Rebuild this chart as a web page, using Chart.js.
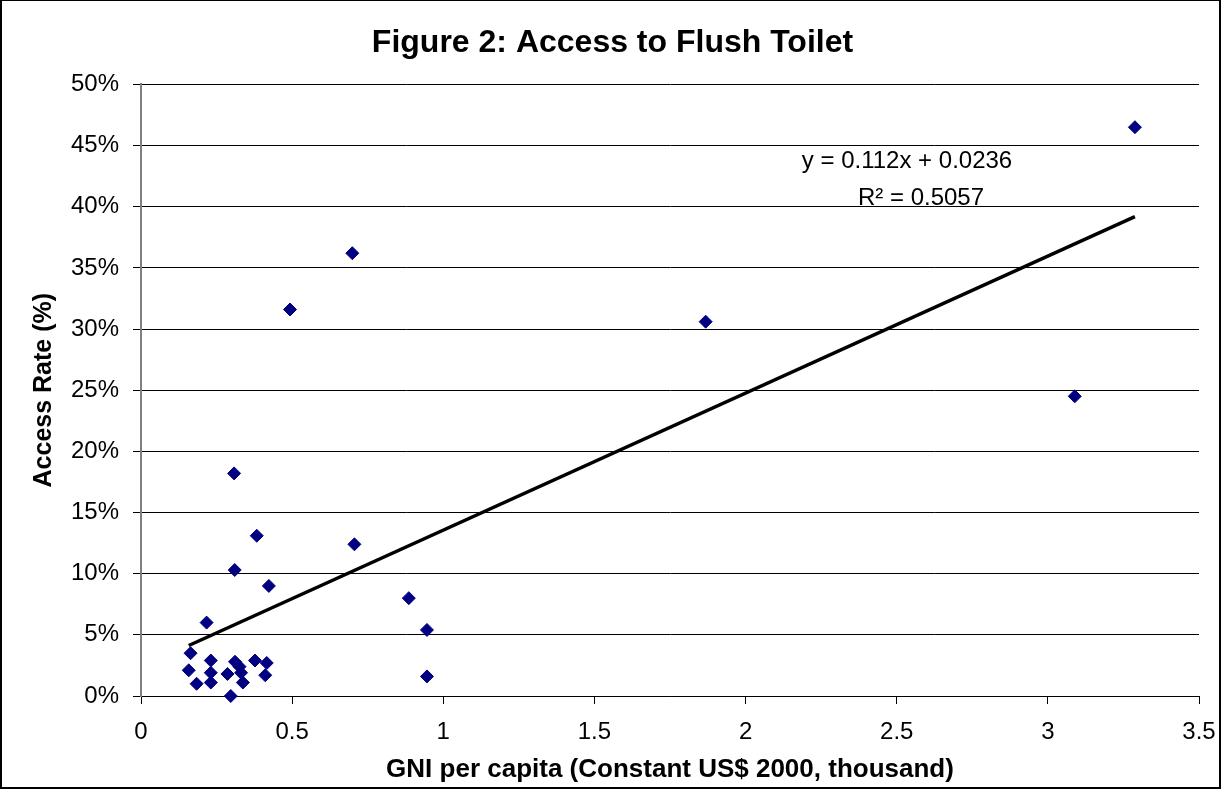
<!DOCTYPE html>
<html lang="en">
  <head>
    <meta charset="UTF-8" />
    <title>Figure 2: Access to Flush Toilet</title>
    <style>
      body {
        margin: 0;
        background-color: #fff;
      }
      .chart-container {
        width: 1225px;
        height: 794px;
        position: relative;
      }
    </style>
  </head>
  <body>
    <div class="chart-container">
      <canvas id="toiletChart"></canvas>
    </div>
    <script src="https://cdn.jsdelivr.net/npm/chart.js"></script>
    <script>
      // GNI per capita (thousand US$ 2000) and flush toilet access rate
      const gniX = [
        0.164, 0.231, 0.158, 0.184, 0.231, 0.231, 0.286, 0.311, 0.326, 0.331,
        0.337, 0.377, 0.416, 0.411, 0.297, 0.946, 0.946, 0.886, 0.217, 0.423,
        0.31, 0.706, 0.383, 0.308, 0.493, 0.699, 1.868, 3.089, 3.288,
      ];
      const accessY = [
        0.035, 0.029, 0.021, 0.01, 0.019, 0.011, 0.018, 0.028, 0.024, 0.019,
        0.011, 0.029, 0.027, 0.017, 0.0, 0.016, 0.054, 0.08, 0.06, 0.09,
        0.103, 0.124, 0.131, 0.182, 0.316, 0.362, 0.306, 0.245, 0.465,
      ];
      // linear trendline end points (Excel style, from min x to max x)
      const trendX = [0.158, 3.288];
      const trendY = [0.0413, 0.3919];
      const equationLines = ["y = 0.112x + 0.0236", "R\u00b2 = 0.5057"];

      const FONT = "'Liberation Sans', Arial, sans-serif";

      const scatterPoints = gniX.map((x, i) => ({ x: x, y: accessY[i] }));
      const trendPoints = trendX.map((x, i) => ({ x: x, y: trendY[i] }));

      const frameAndLabel = {
        id: "frameAndLabel",
        beforeDatasetsDraw(chart) {
          const ctx = chart.ctx;
          ctx.save();
          ctx.fillStyle = "#000";
          ctx.font = "24px " + FONT;
          ctx.textAlign = "center";
          ctx.textBaseline = "alphabetic";
          ctx.fillText(equationLines[0], 907, 168);
          ctx.fillText(equationLines[1], 921, 205);
          ctx.restore();
        },
        afterDraw(chart) {
          const ctx = chart.ctx;
          ctx.save();
          ctx.strokeStyle = "#000";
          ctx.lineWidth = 2;
          ctx.strokeRect(1, 0, 1219, 788);
          ctx.restore();
        },
      };

      const config = {
        type: "scatter",
        data: {
          datasets: [
            {
              label: "Access rate",
              data: scatterPoints,
              pointStyle: "rectRot",
              pointRadius: 6.5,
              backgroundColor: "#000080",
              borderColor: "#000080",
              borderWidth: 1,
              clip: false,
            },
            {
              type: "line",
              label: "Linear trend",
              data: trendPoints,
              borderColor: "#000",
              borderWidth: 3.5,
              pointRadius: 0,
              fill: false,
              clip: false,
            },
          ],
        },
        options: {
          responsive: true,
          maintainAspectRatio: false,
          animation: false,
          layout: { padding: 0 },
          plugins: {
            legend: { display: false },
            tooltip: { enabled: false },
            title: {
              display: true,
              text: "Figure 2: Access to Flush Toilet",
              color: "#000",
              font: { family: FONT, size: 32, weight: "bold" },
              padding: { top: 24, bottom: 22 },
            },
          },
          scales: {
            x: {
              type: "linear",
              min: 0,
              max: 3.5,
              afterFit: (scale) => {
                scale.height = 98;
                scale.paddingRight = 26;
              },
              ticks: {
                stepSize: 0.5,
                color: "#000",
                padding: 14,
                maxRotation: 0,
                font: { family: FONT, size: 24 },
                callback: (v) => String(v),
              },
              grid: {
                drawOnChartArea: false,
                color: "#000",
                tickLength: 8,
              },
              border: { color: "#000", width: 1 },
              title: {
                display: true,
                text: "GNI per capita (Constant US$ 2000, thousand)",
                color: "#000",
                font: { family: FONT, size: 26, weight: "bold" },
                padding: { top: 0, bottom: 9 },
              },
            },
            y: {
              min: 0,
              max: 0.5,
              afterFit: (scale) => {
                scale.width = 141;
              },
              ticks: {
                stepSize: 0.05,
                color: "#000",
                padding: 14,
                font: { family: FONT, size: 24 },
                callback: (v) => Math.round(v * 100) + "%",
              },
              grid: {
                color: "#000",
                lineWidth: 1,
                tickLength: 8,
              },
              border: { color: "#808080", width: 2 },
              title: {
                display: true,
                text: "Access Rate (%)",
                color: "#000",
                font: { family: FONT, size: 25, weight: "bold" },
                padding: { top: 29, bottom: 0 },
              },
            },
          },
        },
        plugins: [frameAndLabel],
      };

      const toiletChart = new Chart(
        document.getElementById("toiletChart"),
        config
      );
    </script>
  </body>
</html>
